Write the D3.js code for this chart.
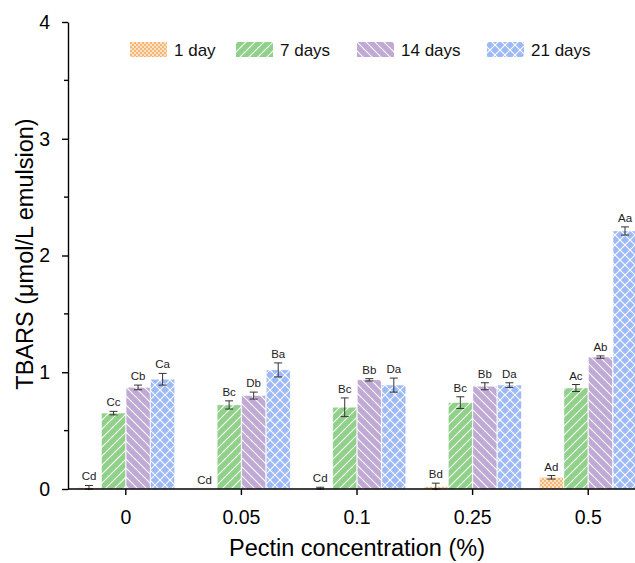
<!DOCTYPE html>
<html>
<head>
<meta charset="utf-8">
<script src="https://cdn.jsdelivr.net/npm/d3@7"></script>
<style>
  body { margin: 0; background: #fff; }
  svg { font-family: Arial, "Liberation Sans", sans-serif; }
</style>
</head>
<body>
<div id="chart"></div>
<script>
const WIDTH = 635;
const HEIGHT = 563;
const margin = { top: 22, left: 68, bottom: 74 };

const categories = ['0', '0.05', '0.1', '0.25', '0.5'];
const series = ['1 day', '7 days', '14 days', '21 days'];

// mean values per series, one entry per pectin concentration
const day1 = [0.01, 0.0, 0.005, 0.02, 0.10];
const day7 = [0.65, 0.72, 0.70, 0.74, 0.865];
const day14 = [0.87, 0.80, 0.935, 0.88, 1.13];
const day21 = [0.94, 1.02, 0.89, 0.89, 2.21];

// error (SD)
const err1 = [0.02, 0, 0.01, 0.03, 0.015];
const err7 = [0.015, 0.035, 0.08, 0.05, 0.03];
const err14 = [0.02, 0.03, 0.01, 0.03, 0.01];
const err21 = [0.05, 0.06, 0.06, 0.02, 0.035];

// significance letters
const lab1 = ['Cd', 'Cd', 'Cd', 'Bd', 'Ad'];
const lab7 = ['Cc', 'Bc', 'Bc', 'Bc', 'Ac'];
const lab14 = ['Cb', 'Db', 'Bb', 'Bb', 'Ab'];
const lab21 = ['Ca', 'Ba', 'Da', 'Da', 'Aa'];

const yTicks = [0, 1, 2, 3, 4];

const values = [day1, day7, day14, day21];
const errors = [err1, err7, err14, err21];
const labels = [lab1, lab7, lab14, lab21];

const rows = [];
categories.forEach((c, ci) => {
    series.forEach((s, si) => {
        rows.push({ cat: c, s: s, si: si, v: values[si][ci], e: errors[si][ci], lab: labels[si][ci] });
    });
});

const svg = d3.select('#chart')
    .append('svg')
    .attr('width', WIDTH)
    .attr('height', HEIGHT);

// patterns
const defs = svg.append('defs');

const pOrange = defs.append('pattern').attr('id', 'p0')
    .attr('patternUnits', 'userSpaceOnUse').attr('width', 4).attr('height', 4);
pOrange.append('rect').attr('width', 4).attr('height', 4).attr('fill', '#fde3c6');
pOrange.append('rect').attr('width', 2).attr('height', 2).attr('fill', '#f5b777');
pOrange.append('rect').attr('x', 2).attr('y', 2).attr('width', 2).attr('height', 2).attr('fill', '#f5b777');

const pGreen = defs.append('pattern').attr('id', 'p1')
    .attr('patternUnits', 'userSpaceOnUse').attr('width', 9).attr('height', 9);
pGreen.append('rect').attr('width', 9).attr('height', 9).attr('fill', '#90d18a');
pGreen.append('path').attr('d', 'M-1,10 L10,-1 M-2,2 L2,-2 M7,11 L11,7')
    .attr('stroke', '#fff').attr('stroke-width', 1.1);

const pPurple = defs.append('pattern').attr('id', 'p2')
    .attr('patternUnits', 'userSpaceOnUse').attr('width', 9).attr('height', 9);
pPurple.append('rect').attr('width', 9).attr('height', 9).attr('fill', '#c0a9d5');
pPurple.append('path').attr('d', 'M-1,-1 L10,10 M-2,7 L2,11 M7,-2 L11,2')
    .attr('stroke', '#fff').attr('stroke-width', 1.1);

const pBlue = defs.append('pattern').attr('id', 'p3')
    .attr('patternUnits', 'userSpaceOnUse').attr('width', 10).attr('height', 10);
pBlue.append('rect').attr('width', 10).attr('height', 10).attr('fill', '#9dbaf6');
pBlue.append('path').attr('d', 'M-1,-1 L11,11 M-1,11 L11,-1')
    .attr('stroke', '#fff').attr('stroke-width', 1.1);

const fills = ['url(#p0)', 'url(#p1)', 'url(#p2)', 'url(#p3)'];

// scales
const x0 = d3.scaleBand()
    .domain(categories)
    .range([margin.left, 646])
    .padding(0);

const x1 = d3.scaleBand()
    .domain(series)
    .range([0, x0.bandwidth()])
    .paddingInner(0.03)
    .paddingOuter(0.37);

const y = d3.scaleLinear()
    .domain([0, 4])
    .range([HEIGHT - margin.bottom, margin.top]);

// bars
const bars = svg.append('g');
bars.selectAll('rect')
    .data(rows.filter(d => d.v > 0))
    .enter()
    .append('rect')
    .attr('x', d => x0(d.cat) + x1(d.s))
    .attr('y', d => y(d.v))
    .attr('width', x1.bandwidth())
    .attr('height', d => y(0) - y(d.v))
    .attr('fill', d => fills[d.si])
    .attr('stroke', '#fff')
    .attr('stroke-opacity', 0.6)
    .attr('stroke-width', 0.6);

// error bars
const eb = svg.append('g').attr('stroke', '#333').attr('stroke-width', 1);
const cx = d => x0(d.cat) + x1(d.s) + x1.bandwidth() / 2;
const errRows = rows.filter(d => d.e > 0);
eb.selectAll('line.v')
    .data(errRows)
    .enter()
    .append('line')
    .attr('x1', cx).attr('x2', cx)
    .attr('y1', d => y(d.v - d.e)).attr('y2', d => y(d.v + d.e));
eb.selectAll('line.t')
    .data(errRows)
    .enter()
    .append('line')
    .attr('x1', d => cx(d) - 4).attr('x2', d => cx(d) + 4)
    .attr('y1', d => y(d.v + d.e)).attr('y2', d => y(d.v + d.e));
eb.selectAll('line.b')
    .data(errRows)
    .enter()
    .append('line')
    .attr('x1', d => cx(d) - 4).attr('x2', d => cx(d) + 4)
    .attr('y1', d => y(Math.max(0, d.v - d.e))).attr('y2', d => y(Math.max(0, d.v - d.e)));

// letters
svg.append('g').selectAll('text')
    .data(rows)
    .enter()
    .append('text')
    .text(d => d.lab)
    .attr('x', cx)
    .attr('y', d => y(d.v + d.e) - 5)
    .attr('font-size', 11.5)
    .attr('fill', '#222')
    .attr('text-anchor', 'middle');

// axes
const xAxis = svg.append('g')
    .attr('transform', `translate(0,${y(0)})`)
    .call(d3.axisBottom(x0).tickSizeOuter(0).tickSize(6).tickPadding(15));
xAxis.select('.domain').attr('d', `M${margin.left},0H${WIDTH}`).attr('stroke-width', 1.4);
xAxis.selectAll('.tick line').attr('stroke-width', 1.4);
xAxis.selectAll('text').attr('font-size', 19.5).attr('fill', '#000');

const yAxis = svg.append('g')
    .attr('transform', `translate(${margin.left},0)`)
    .call(d3.axisLeft(y).tickValues(yTicks).tickFormat(d3.format('d')).tickSize(6).tickSizeOuter(0).tickPadding(12));
yAxis.select('.domain').attr('stroke-width', 1.4);
yAxis.selectAll('.tick line').attr('stroke-width', 1.4);
yAxis.selectAll('text').attr('font-size', 19.5).attr('fill', '#000');

// minor ticks
svg.append('g').selectAll('line')
    .data(d3.range(0.5, 4, 1))
    .enter()
    .append('line')
    .attr('x1', margin.left - 4)
    .attr('x2', margin.left)
    .attr('y1', d => y(d))
    .attr('y2', d => y(d))
    .attr('stroke', '#000')
    .attr('stroke-width', 1.4);

// axis titles
svg.append('text')
    .text('Pectin concentration (%)')
    .attr('x', 357)
    .attr('y', 556)
    .attr('font-size', 23.5)
    .attr('text-anchor', 'middle');

svg.append('text')
    .text('TBARS (μmol/L emulsion)')
    .attr('transform', 'translate(33,254) rotate(-90)')
    .attr('font-size', 23.5)
    .attr('text-anchor', 'middle');

// legend
const legX = [130, 236, 357, 487];
const legend = svg.append('g');
series.forEach((s, i) => {
    legend.append('rect')
        .attr('x', legX[i]).attr('y', 42)
        .attr('width', 37).attr('height', 15)
        .attr('fill', fills[i]);
    legend.append('text')
        .text(s)
        .attr('x', legX[i] + 44)
        .attr('y', 56)
        .attr('font-size', 17)
        .attr('fill', '#111');
});
</script>
</body>
</html>
